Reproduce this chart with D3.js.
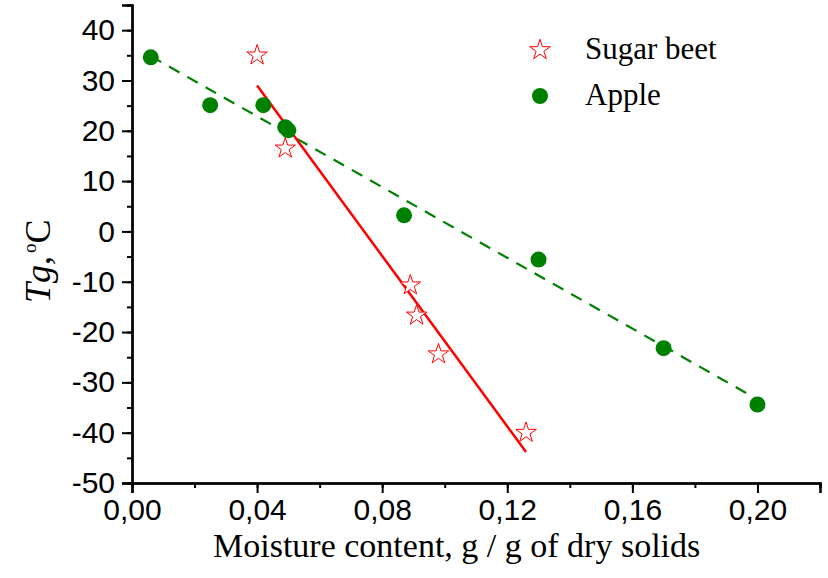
<!DOCTYPE html>
<html>
<head>
<meta charset="utf-8">
<script src="https://cdn.jsdelivr.net/npm/d3@7"></script>
<style>
  html, body { margin: 0; padding: 0; background: #fff; }
  svg { display: block; }
  .tick text { font-family: Arial, "Liberation Sans", sans-serif; }
</style>
</head>
<body>
<div id="chart"></div>
<script>
// Sugar beet (stars) and apple (circles): moisture content vs Tg
const beetMoisture = [0.040, 0.049, 0.089, 0.091, 0.098, 0.126];
const beetTg = [35.0, 16.5, -10.7, -16.7, -24.4, -40.0];
const appleMoisture = [0.006, 0.025, 0.042, 0.049, 0.050, 0.087, 0.130, 0.170, 0.200];
const appleTg = [34.6, 25.1, 25.1, 20.7, 20.1, 3.2, -5.6, -23.2, -34.4];
const xTicks = [0, 0.04, 0.08, 0.12, 0.16, 0.20];
const yTicks = [-50, -40, -30, -20, -10, 0, 10, 20, 30, 40];
const seriesNames = ["Sugar beet", "Apple"];

const width = 828, height = 578;
const margin = { top: 5, right: 8, bottom: 95, left: 132 };
const innerW = width - margin.left - margin.right;
const innerH = height - margin.top - margin.bottom;
const serif = "'Liberation Serif', 'Times New Roman', serif";

const svg = d3.select("#chart").append("svg")
  .attr("width", width)
  .attr("height", height);

const g = svg.append("g")
  .attr("transform", `translate(${margin.left},${margin.top})`);

const x = d3.scaleLinear().domain([0, 0.22]).range([0, innerW]);
const y = d3.scaleLinear().domain([-50, 45]).range([innerH, 0]);

const fmtX = v => d3.format(".2f")(v).replace(".", ",");

// minor ticks first, then major axis on top
g.append("g")
  .attr("transform", `translate(0,${innerH})`)
  .call(d3.axisBottom(x).tickValues(d3.range(0, 0.2201, 0.02)).tickSize(5).tickFormat(""))
  .call(a => a.selectAll("line,path").attr("stroke", "#000").attr("stroke-width", 2));

g.append("g")
  .call(d3.axisLeft(y).tickValues(d3.range(-50, 45.1, 5)).tickSize(5).tickFormat(""))
  .call(a => a.selectAll("line,path").attr("stroke", "#000").attr("stroke-width", 2));

g.append("g")
  .attr("transform", `translate(0,${innerH})`)
  .call(d3.axisBottom(x).tickValues(xTicks).tickSize(10).tickPadding(6).tickFormat(fmtX))
  .call(a => a.select(".domain").attr("stroke", "#000").attr("stroke-width", 2.5))
  .call(a => a.selectAll(".tick line").attr("stroke", "#000").attr("stroke-width", 2))
  .call(a => a.selectAll(".tick text").attr("fill", "#000").style("font-size", "30px"));

g.append("g")
  .call(d3.axisLeft(y).tickValues(yTicks).tickSize(10).tickPadding(7).tickFormat(v => String(v)))
  .call(a => a.select(".domain").attr("stroke", "#000").attr("stroke-width", 2.5))
  .call(a => a.selectAll(".tick line").attr("stroke", "#000").attr("stroke-width", 2))
  .call(a => a.selectAll(".tick text").attr("fill", "#000").style("font-size", "30px"));

// least-squares fit for each series
function fit(xs, ys) {
  const mx = d3.mean(xs), my = d3.mean(ys);
  const sxy = d3.sum(xs, (v, i) => (v - mx) * (ys[i] - my));
  const sxx = d3.sum(xs, v => (v - mx) * (v - mx));
  const b = sxy / sxx;
  const [x0, x1] = d3.extent(xs);
  return [[x0, my + b * (x0 - mx)], [x1, my + b * (x1 - mx)]];
}

const line = d3.line().x(d => x(d[0])).y(d => y(d[1]));

g.append("path")
  .attr("d", line(fit(appleMoisture, appleTg)))
  .attr("fill", "none")
  .attr("stroke", "#008000")
  .attr("stroke-width", 2.2)
  .attr("stroke-dasharray", "12,9");

g.append("path")
  .attr("d", line(fit(beetMoisture, beetTg)))
  .attr("fill", "none")
  .attr("stroke", "#ff0000")
  .attr("stroke-width", 2.5);

const star = d3.symbol().type(d3.symbolStar).size(130);

g.selectAll(".apple")
  .data(appleMoisture.map((m, i) => [m, appleTg[i]]))
  .join("circle")
  .attr("cx", d => x(d[0]))
  .attr("cy", d => y(d[1]))
  .attr("r", 8)
  .attr("fill", "#008000");

g.selectAll(".beet")
  .data(beetMoisture.map((m, i) => [m, beetTg[i]]))
  .join("path")
  .attr("d", star)
  .attr("transform", d => `translate(${x(d[0])},${y(d[1])})`)
  .attr("fill", "#fff")
  .attr("stroke", "#ff0000")
  .attr("stroke-width", 1);

// legend
const legend = svg.append("g").attr("transform", "translate(540,50)");
legend.append("path")
  .attr("d", star)
  .attr("fill", "#fff")
  .attr("stroke", "#ff0000")
  .attr("stroke-width", 1);
legend.append("circle")
  .attr("cy", 46)
  .attr("r", 8)
  .attr("fill", "#008000");
legend.selectAll("text")
  .data(seriesNames)
  .join("text")
  .attr("x", 45)
  .attr("y", (d, i) => 9 + i * 46)
  .attr("font-family", serif)
  .attr("font-size", 31)
  .text(d => d);

// axis titles
svg.append("text")
  .attr("x", 213)
  .attr("y", 557)
  .attr("font-family", serif)
  .attr("font-size", 34)
  .text("Moisture content, g / g of dry solids");

const yTitle = svg.append("text")
  .attr("transform", "translate(50,303) rotate(-90)")
  .attr("font-family", serif)
  .attr("font-size", 36);
yTitle.append("tspan").attr("font-style", "italic").text("Tg");
yTitle.append("tspan").text(",");
yTitle.append("tspan").attr("font-size", 19).attr("dy", -14).attr("dx", 3).text("o");
yTitle.append("tspan").attr("dy", 14).text("C");
</script>
</body>
</html>
